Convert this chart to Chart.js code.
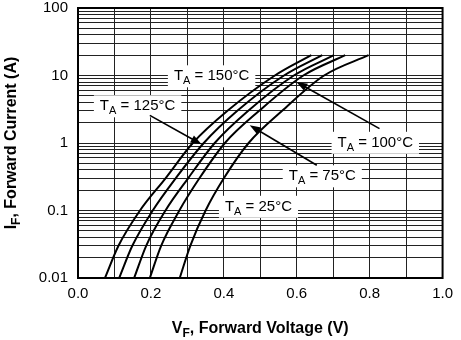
<!DOCTYPE html>
<html>
<head>
<meta charset="utf-8">
<script src="https://cdn.jsdelivr.net/npm/chart.js@4.4.0/dist/chart.umd.min.js"></script>
<style>
  html, body { margin: 0; padding: 0; background: #fff; }
</style>
</head>
<body>
<canvas id="vf-chart" width="461" height="340"></canvas>
<script>
// forward current levels (A) the curves were read at
const currentLevels = [0.01, 0.03, 0.1, 0.3, 1, 3, 10, 20];

// forward voltage (V) at each current level, one array per ambient temperature
const vf150 = [0.074, 0.111, 0.170, 0.240, 0.315, 0.410, 0.540, 0.640];
const vf125 = [0.113, 0.149, 0.205, 0.268, 0.345, 0.437, 0.565, 0.670];
const vf100 = [0.154, 0.187, 0.240, 0.302, 0.375, 0.467, 0.592, 0.702];
const vf75  = [0.197, 0.228, 0.278, 0.333, 0.403, 0.497, 0.618, 0.733];
const vf25  = [0.279, 0.308, 0.350, 0.400, 0.468, 0.560, 0.675, 0.797];

const temperatures = ['150', '125', '100', '75', '25'];
const seriesValues = [vf150, vf125, vf100, vf75, vf25];

// axis ticks
const xTickValues = [0, 0.1, 0.2, 0.3, 0.4, 0.5, 0.6, 0.7, 0.8, 0.9, 1.0];
const xTickLabels = ['0.0', '', '0.2', '', '0.4', '', '0.6', '', '0.8', '', '1.0'];
const yDecades = [0.01, 0.1, 1, 10, 100];
const yDecadeLabels = ['0.01', '0.1', '1', '10', '100'];

// log grid: 1..9 in every decade
const yGridValues = [];
yDecades.forEach(function(d, i) {
    const steps = i === yDecades.length - 1 ? [1] : [1, 2, 3, 4, 5, 6, 7, 8, 9];
    steps.forEach(function(m) { yGridValues.push(parseFloat((d * m).toPrecision(3))); });
});

// where the temperature labels and their arrows sit, in data units
const labelPlaces = [
    { temp: '150', v: 0.263, i: 8.49 },
    { temp: '125', v: 0.060, i: 3.05 },
    { temp: '100', v: 0.712, i: 0.879 },
    { temp: '75',  v: 0.578, i: 0.280 },
    { temp: '25',  v: 0.403, i: 0.099 }
];
const arrowPlaces = [
    { fromV: 0.197, fromI: 2.57, toV: 0.339, toI: 0.957 },
    { fromV: 0.827, fromI: 1.63, toV: 0.599, toI: 8.02 },
    { fromV: 0.655, fromI: 0.468, toV: 0.471, toI: 1.83 }
];

const FONT = '"Liberation Sans", Arial, sans-serif';

function drawTempLabel(ctx, x, y, temp) {
    ctx.textBaseline = 'alphabetic';
    ctx.textAlign = 'left';
    ctx.font = '15px ' + FONT;
    const wT = ctx.measureText('T').width;
    const rest = ' = ' + temp + '\u00b0C';
    const wRest = ctx.measureText(rest).width;
    ctx.font = '11px ' + FONT;
    const wA = ctx.measureText('A').width;
    const w = wT + wA + wRest;

    ctx.fillStyle = '#fff';
    ctx.fillRect(x - 6, y - 15, w + 12, 22);

    ctx.fillStyle = '#000';
    ctx.font = '15px ' + FONT;
    ctx.fillText('T', x, y);
    ctx.font = '11px ' + FONT;
    ctx.fillText('A', x + wT, y + 4);
    ctx.font = '15px ' + FONT;
    ctx.fillText(rest, x + wT + wA, y);
}

function drawArrow(ctx, x1, y1, x2, y2) {
    const ang = Math.atan2(y2 - y1, x2 - x1);
    const len = 11, half = 4;
    ctx.strokeStyle = '#000';
    ctx.lineWidth = 1.6;
    ctx.beginPath();
    ctx.moveTo(x1, y1);
    ctx.lineTo(x2 - Math.cos(ang) * len * 0.8, y2 - Math.sin(ang) * len * 0.8);
    ctx.stroke();
    ctx.fillStyle = '#000';
    ctx.beginPath();
    ctx.moveTo(x2, y2);
    ctx.lineTo(x2 - Math.cos(ang) * len + Math.sin(ang) * half, y2 - Math.sin(ang) * len - Math.cos(ang) * half);
    ctx.lineTo(x2 - Math.cos(ang) * len - Math.sin(ang) * half, y2 - Math.sin(ang) * len + Math.cos(ang) * half);
    ctx.closePath();
    ctx.fill();
}

const annotations = {
    id: 'annotations',
    beforeDatasetsDraw(chart) {
        const ctx = chart.ctx;
        const xs = chart.scales.x, ys = chart.scales.y;
        ctx.save();
        labelPlaces.forEach(function(p) {
            drawTempLabel(ctx, xs.getPixelForValue(p.v), ys.getPixelForValue(p.i), p.temp);
        });
        ctx.restore();
    },
    afterDatasetsDraw(chart) {
        const ctx = chart.ctx;
        const xs = chart.scales.x, ys = chart.scales.y;
        const area = chart.chartArea;
        ctx.save();
        arrowPlaces.forEach(function(a) {
            drawArrow(ctx, xs.getPixelForValue(a.fromV), ys.getPixelForValue(a.fromI),
                xs.getPixelForValue(a.toV), ys.getPixelForValue(a.toI));
        });

        // plot frame
        ctx.strokeStyle = '#000';
        ctx.lineWidth = 2;
        ctx.strokeRect(area.left, area.top, area.right - area.left, area.bottom - area.top);

        // axis titles with subscripts
        ctx.fillStyle = '#000';
        ctx.textBaseline = 'alphabetic';
        ctx.textAlign = 'left';
        function titleWidth(main, sub, tail) {
            ctx.font = 'bold 16px ' + FONT;
            const a = ctx.measureText(main).width, c = ctx.measureText(tail).width;
            ctx.font = 'bold 12px ' + FONT;
            return { a: a, b: ctx.measureText(sub).width, c: c };
        }
        function drawTitle(main, sub, tail, x, y) {
            const m = titleWidth(main, sub, tail);
            const start = x - (m.a + m.b + m.c) / 2;
            ctx.font = 'bold 16px ' + FONT;
            ctx.fillText(main, start, y);
            ctx.font = 'bold 12px ' + FONT;
            ctx.fillText(sub, start + m.a, y + 4);
            ctx.font = 'bold 16px ' + FONT;
            ctx.fillText(tail, start + m.a + m.b, y);
        }
        drawTitle('V', 'F', ', Forward Voltage (V)', (area.left + area.right) / 2, 333);
        ctx.translate(16, (area.top + area.bottom) / 2);
        ctx.rotate(-Math.PI / 2);
        drawTitle('I', 'F', ', Forward Current (A)', 0, 0);
        ctx.restore();
    }
};

const datasets = seriesValues.map(function(values, k) {
    return {
        label: 'TA = ' + temperatures[k] + '\u00b0C',
        data: values.map(function(v, i) { return { x: v, y: currentLevels[i] }; }),
        borderColor: '#000',
        borderWidth: 2,
        pointRadius: 0,
        fill: false,
        cubicInterpolationMode: 'monotone'
    };
});

new Chart(document.getElementById('vf-chart'), {
    type: 'line',
    data: { datasets: datasets },
    options: {
        responsive: false,
        animation: false,
        layout: { padding: { top: 0, right: 18, left: 0, bottom: 0 } },
        plugins: { legend: { display: false }, tooltip: { enabled: false } },
        scales: {
            x: {
                type: 'linear',
                min: 0,
                max: 1,
                afterBuildTicks: function(scale) {
                    scale.ticks = xTickValues.map(function(v) { return { value: v }; });
                },
                afterFit: function(scale) { scale.height = 62; },
                ticks: {
                    autoSkip: false,
                    maxRotation: 0,
                    padding: 8,
                    color: '#000',
                    font: { family: FONT, size: 15, lineHeight: 1 },
                    callback: function(value, index) { return xTickLabels[index]; }
                },
                grid: { color: '#222', lineWidth: 1, drawTicks: false },
                border: { display: false }
            },
            y: {
                type: 'logarithmic',
                min: 0.01,
                max: 100,
                afterBuildTicks: function(scale) {
                    scale.ticks = yGridValues.map(function(v) { return { value: v }; });
                },
                afterFit: function(scale) {
                    scale.width = 78;
                    scale.paddingTop = 8;
                    scale.paddingBottom = 8;
                },
                ticks: {
                    autoSkip: false,
                    padding: 10,
                    color: '#000',
                    font: { family: FONT, size: 15, lineHeight: 1 },
                    callback: function(value) {
                        const k = yDecades.indexOf(value);
                        return k >= 0 ? yDecadeLabels[k] : '';
                    }
                },
                grid: { color: '#222', lineWidth: 1, drawTicks: false },
                border: { display: false }
            }
        }
    },
    plugins: [annotations]
});
</script>
</body>
</html>
